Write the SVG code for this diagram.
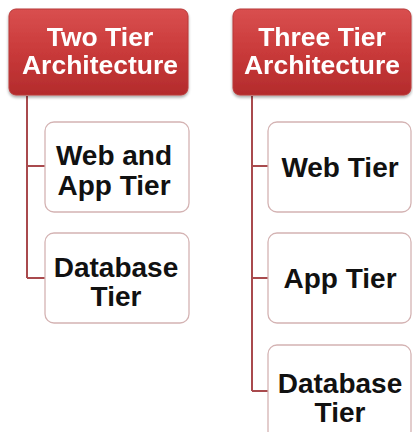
<svg xmlns="http://www.w3.org/2000/svg" width="413" height="432" viewBox="0 0 413 432">
  <defs>
    <linearGradient id="hdr" x1="0" y1="0" x2="0" y2="1">
      <stop offset="0" stop-color="#d94f4f"/>
      <stop offset="0.5" stop-color="#c93a3a"/>
      <stop offset="1" stop-color="#b32b2c"/>
    </linearGradient>
    <filter id="sh" x="-10%" y="-10%" width="120%" height="125%">
      <feGaussianBlur in="SourceAlpha" stdDeviation="1.5"/>
      <feOffset dx="0" dy="2" result="b"/>
      <feComponentTransfer><feFuncA type="linear" slope="0.35"/></feComponentTransfer>
      <feMerge><feMergeNode/><feMergeNode in="SourceGraphic"/></feMerge>
    </filter>
  </defs>
  <style>
    .hdr { fill: url(#hdr); stroke: #b83a3a; stroke-width: 1; }
    .hdr-t { font-family: "Liberation Sans", Arial, sans-serif; font-weight: bold; font-size: 26.5px; fill: #ffffff; text-anchor: middle; }
    .box { fill: #ffffff; stroke: #d4b3b3; stroke-width: 1.3; }
    .box-t { font-family: "Liberation Sans", Arial, sans-serif; font-weight: bold; font-size: 28px; fill: #111111; text-anchor: middle; }
    .conn { fill: none; stroke: #a94a4d; stroke-width: 2; }
  </style>
  <rect width="413" height="432" fill="#ffffff"/>

  <g id="connectors">
    <path class="conn" d="M27 96 V278 M27 166 H45 M27 278 H45"/>
    <path class="conn" d="M252 96 V391 M252 166 H268 M252 278 H268 M252 391 H268"/>
  </g>

  <g id="two-tier" filter="url(#sh)">
    <rect class="hdr" x="9" y="9" width="179" height="86" rx="7"/>
    <text class="hdr-t" x="100" y="46">Two Tier</text>
    <text class="hdr-t" x="100" y="74">Architecture</text>
  </g>

  <g id="three-tier" filter="url(#sh)">
    <rect class="hdr" x="233" y="9" width="178" height="86" rx="7"/>
    <text class="hdr-t" x="322" y="46">Three Tier</text>
    <text class="hdr-t" x="322" y="74">Architecture</text>
  </g>

  <g id="web-app-tier">
    <rect class="box" x="45" y="122" width="144" height="90" rx="9"/>
    <text class="box-t" x="114" y="165">Web and</text>
    <text class="box-t" x="114" y="195">App Tier</text>
  </g>

  <g id="database-tier-2">
    <rect class="box" x="45" y="233" width="144" height="90" rx="9"/>
    <text class="box-t" x="116" y="277">Database</text>
    <text class="box-t" x="116" y="306">Tier</text>
  </g>

  <g id="web-tier">
    <rect class="box" x="268" y="122" width="143" height="90" rx="9"/>
    <text class="box-t" x="340" y="177">Web Tier</text>
  </g>

  <g id="app-tier">
    <rect class="box" x="268" y="233" width="143" height="90" rx="9"/>
    <text class="box-t" x="340" y="288">App Tier</text>
  </g>

  <g id="database-tier-3">
    <rect class="box" x="268" y="345" width="143" height="95" rx="9"/>
    <text class="box-t" x="340" y="393">Database</text>
    <text class="box-t" x="340" y="422">Tier</text>
  </g>
</svg>
